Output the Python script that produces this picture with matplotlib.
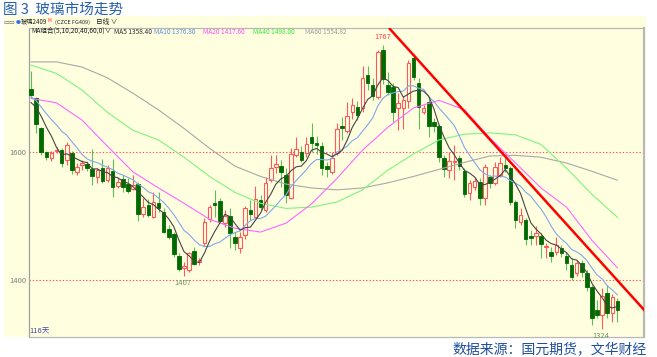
import numpy as np
import pandas as pd
import matplotlib
matplotlib.use('Agg')
import matplotlib.pyplot as plt
from matplotlib.patches import Rectangle

plt.rcParams['font.family'] = ['Noto Sans CJK SC', 'DejaVu Sans']

# daily OHLC, 116 bars
open_ = [1698, 1684, 1637, 1600, 1591, 1601, 1603, 1587, 1598, 1569,
         1580, 1581, 1573, 1561, 1575, 1556, 1570, 1547, 1558, 1550,
         1542, 1550, 1503, 1517, 1498, 1520, 1506, 1480, 1472, 1437,
         1419, 1416, 1445, 1428, 1458, 1495, 1520, 1523, 1489, 1500,
         1467, 1450, 1470, 1509, 1498, 1525, 1509, 1556, 1577, 1578,
         1564, 1528, 1595, 1600, 1598, 1623, 1614, 1609, 1578, 1569,
         1598, 1641, 1633, 1662, 1670, 1669, 1720, 1705, 1686, 1759,
         1705, 1702, 1669, 1669, 1680, 1747, 1708, 1662, 1678, 1647,
         1641, 1591, 1572, 1584, 1591, 1570, 1536, 1545, 1553, 1528,
         1561, 1552, 1564, 1580, 1575, 1522, 1491, 1494, 1469, 1469,
         1469, 1452, 1444, 1444, 1450, 1438, 1423, 1411, 1427, 1411,
         1389, 1353, 1345, 1380, 1348, 1367]
high = [1727, 1686, 1640, 1602, 1602, 1608, 1606, 1616, 1602, 1583,
        1588, 1586, 1605, 1575, 1590, 1580, 1589, 1559, 1564, 1559,
        1564, 1553, 1528, 1527, 1537, 1537, 1512, 1486, 1475, 1442,
        1428, 1444, 1452, 1434, 1497, 1517, 1541, 1528, 1509, 1512,
        1475, 1475, 1516, 1525, 1547, 1533, 1561, 1595, 1595, 1588,
        1575, 1606, 1623, 1609, 1623, 1645, 1625, 1616, 1584, 1600,
        1645, 1655, 1678, 1684, 1680, 1734, 1734, 1716, 1759, 1767,
        1725, 1708, 1692, 1688, 1744, 1753, 1716, 1673, 1686, 1653,
        1644, 1595, 1600, 1611, 1595, 1575, 1556, 1561, 1559, 1581,
        1564, 1584, 1592, 1592, 1578, 1525, 1512, 1497, 1478, 1484,
        1473, 1458, 1452, 1467, 1455, 1444, 1434, 1431, 1431, 1416,
        1392, 1369, 1387, 1392, 1378, 1372]
low = [1685, 1630, 1595, 1588, 1586, 1598, 1577, 1580, 1566, 1564,
       1572, 1570, 1548, 1552, 1552, 1553, 1530, 1544, 1537, 1536,
       1541, 1492, 1498, 1498, 1497, 1506, 1473, 1464, 1436, 1414,
       1407, 1412, 1423, 1423, 1453, 1491, 1498, 1489, 1483, 1450,
       1447, 1442, 1464, 1494, 1497, 1509, 1506, 1553, 1567, 1545,
       1520, 1527, 1592, 1584, 1592, 1600, 1597, 1564, 1561, 1566,
       1595, 1619, 1630, 1652, 1650, 1662, 1697, 1681, 1683, 1706,
       1689, 1647, 1634, 1636, 1669, 1713, 1636, 1659, 1623, 1631,
       1584, 1561, 1559, 1556, 1572, 1530, 1525, 1541, 1517, 1517,
       1544, 1548, 1561, 1569, 1517, 1481, 1486, 1455, 1455, 1455,
       1434, 1434, 1428, 1439, 1436, 1416, 1400, 1406, 1405, 1383,
       1330, 1341, 1324, 1341, 1334, 1334]
close = [1690, 1644, 1600, 1592, 1598, 1603, 1583, 1611, 1572, 1577,
         1583, 1575, 1562, 1572, 1555, 1575, 1545, 1553, 1545, 1539,
         1548, 1503, 1514, 1502, 1522, 1512, 1475, 1467, 1441, 1417,
         1422, 1442, 1425, 1431, 1491, 1514, 1517, 1492, 1500, 1473,
         1458, 1467, 1512, 1503, 1527, 1514, 1552, 1575, 1581, 1569,
         1533, 1597, 1605, 1587, 1612, 1614, 1611, 1575, 1573, 1591,
         1636, 1638, 1656, 1673, 1658, 1716, 1708, 1687, 1756, 1714,
         1694, 1663, 1677, 1681, 1739, 1717, 1670, 1669, 1641, 1641,
         1592, 1573, 1586, 1586, 1578, 1534, 1552, 1555, 1528, 1577,
         1552, 1577, 1583, 1575, 1522, 1494, 1502, 1464, 1466, 1473,
         1456, 1453, 1437, 1455, 1442, 1427, 1405, 1427, 1412, 1389,
         1341, 1345, 1375, 1348, 1373, 1353]
# closes just before the visible window (needed for MA5 / MA10 at the left edge)
prior_close = [1705, 1700, 1695, 1690, 1688, 1680, 1672, 1675, 1670]

# longer moving averages, read every 5 bars
ma_bars = list(range(0, 116, 5))
ma20 = [1684, 1677, 1650, 1609, 1569, 1544, 1520, 1495, 1481, 1475, 1489, 1519,
        1559, 1603, 1639, 1669, 1681, 1666, 1622, 1583, 1544, 1514, 1462, 1419]
ma40 = [1736, 1723, 1697, 1662, 1634, 1619, 1592, 1562, 1537, 1520, 1512, 1514,
        1522, 1541, 1572, 1597, 1619, 1628, 1630, 1627, 1612, 1575, 1534, 1498]
ma60 = [1741, 1741, 1733, 1716, 1692, 1666, 1637, 1606, 1578, 1562, 1550, 1544,
        1541, 1544, 1552, 1562, 1573, 1584, 1594, 1595, 1592, 1583, 1570, 1556]

trend_bars = [70.2, 120.6]
trend_prices = [1794, 1350]

legend_items = [('MA5 1358.40', '#303030'), ('MA10 1376.80', '#5B8FD8'),
                ('MA20 1417.60', '#FF44FF'), ('MA40 1498.00', '#33EE33'),
                ('MA60 1554.82', '#999999')]

W, H = 657, 357
fig = plt.figure(figsize=(W / 100, H / 100), dpi=100)


def fx(px):
    return px / W


def fy(py):
    return 1 - py / H


BG = '#FFFFE0'
fig.patches.append(Rectangle((fx(4), fy(337)), fx(646) - fx(4), fy(16) - fy(337),
                             transform=fig.transFigure, facecolor=BG,
                             edgecolor='none', zorder=-5))

ax = fig.add_axes([fx(29), fy(337), fx(644) - fx(29), fy(28) - fy(337)])
ax.set_zorder(2)
ax.set_facecolor(BG)
ax.set_xlim(-0.4, 120.2)
ax.set_ylim(1311, 1794)
for s in ax.spines.values():
    s.set_color('#B8B8B8')
    s.set_linewidth(0.9)
ax.spines['left'].set_color('#A0A0A0')
ax.spines['right'].set_linewidth(1.6)
ax.set_xticks([])
ax.set_yticks([1400, 1600])
ax.tick_params(axis='y', length=0, pad=2, labelsize=5.5, labelcolor='#808080')

# reference lines
for lvl in [1400, 1600]:
    ax.axhline(lvl, color='#FF5050', ls=(0, (1.2, 1.8)), lw=0.8, zorder=1)

o = np.array(open_, float)
c = np.array(close, float)
hi = np.array(high, float)
lo = np.array(low, float)
x = np.arange(len(c))
up = c >= o

RED = '#FF5A5A'
DGREEN = '#006A00'
wick_cols = np.where(up, RED, '#5CBF5C')
ax.vlines(x, lo, hi, colors=wick_cols, lw=0.8, zorder=2)
bot = np.minimum(o, c)
ht = np.maximum(np.abs(c - o), 1.2)
ax.bar(x[up], ht[up], bottom=bot[up], width=0.7, facecolor=BG,
       edgecolor=RED, lw=0.8, zorder=3)
ax.bar(x[~up], ht[~up], bottom=bot[~up], width=0.7, facecolor=DGREEN,
       edgecolor=DGREEN, lw=0.6, zorder=3)

# moving averages
full = pd.Series(prior_close + close, dtype=float)
n0 = len(prior_close)
ma5 = full.rolling(5).mean().to_numpy()[n0:]
ma10 = full.rolling(10).mean().to_numpy()[n0:]
ax.plot(ma_bars, ma60, color='#A8A8A8', lw=0.8, zorder=4)
ax.plot(ma_bars, ma40, color='#7CF57C', lw=0.8, zorder=4)
ax.plot(ma_bars, ma20, color='#FF66FF', lw=0.8, zorder=4)
ax.plot(x, ma10, color='#7FA8E8', lw=0.8, zorder=4)
ax.plot(x, ma5, color='#454545', lw=0.8, zorder=4)

ax.plot(trend_bars, trend_prices, color='#FF0000', lw=1.8, zorder=5,
        solid_capstyle='butt')

# extreme labels
imax = int(np.argmax(hi))
ax.text(imax, hi[imax] + 6, f'{hi[imax]:.0f}', color='#FF4040', fontsize=5.5,
        ha='center', va='bottom', zorder=6)
for lo_idx in [int(np.argmin(lo[:60])), int(np.argmin(lo))]:
    ax.text(lo_idx - 0.3, lo[lo_idx] - 5, f'{lo[lo_idx]:.0f}', color='#6A9A6A',
            fontsize=5.5, ha='center', va='top', zorder=6)

ax.text(0.0, 0.005, '116天', transform=ax.transAxes, color='#4848A8',
        fontsize=5.5, ha='left', va='bottom')

# header texts
fig.text(fx(3), fy(10), '图 3  玻璃市场走势', color='#2860A8', fontsize=10.5,
         ha='left', va='center')
fig.text(fx(3), fy(22), '▭▭', color='#606060', fontsize=4.5, ha='left', va='center')
fig.text(fx(16), fy(22), '●', color='#3070E0', fontsize=3.5, ha='left', va='center')
fig.text(fx(21), fy(22), '玻璃2409', color='#202020', fontsize=4.5, ha='left', va='center')
fig.text(fx(47), fy(21), 'M', color='#FF2020', fontsize=3.3, ha='left', va='center')
fig.text(fx(55), fy(22), '(CZCE FG409)', color='#202020', fontsize=4.0,
         ha='left', va='center')
fig.text(fx(96), fy(22), '日线 ∨', color='#202020', fontsize=4.8, ha='left', va='center')

fig.text(fx(31), fy(32), 'MA组合(5,10,20,40,60,0)∨', color='#202020', fontsize=4.8,
         ha='left', va='center')
xs = [114, 154, 203, 253, 305]
for (txt, col), px in zip(legend_items, xs):
    fig.text(fx(px), fy(32), txt, color=col, fontsize=4.7, ha='left', va='center')

fig.text(fx(647), fy(349), '数据来源：国元期货，文华财经', color='#1F4E9C',
         fontsize=10, ha='right', va='center')

fig.savefig('out.png', dpi=100)
